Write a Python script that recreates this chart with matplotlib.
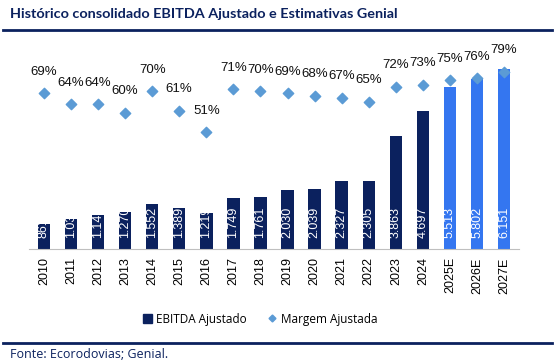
import matplotlib
matplotlib.use("Agg")
import matplotlib.pyplot as plt
from matplotlib.lines import Line2D
from matplotlib.patches import Patch
import numpy as np

years = ["2010", "2011", "2012", "2013", "2014", "2015", "2016", "2017", "2018",
         "2019", "2020", "2021", "2022", "2023", "2024", "2025E", "2026E", "2027E"]
ebitda = [861, 1031, 1145, 1270, 1552, 1389, 1219, 1749, 1761,
          2030, 2039, 2327, 2305, 3863, 4697, 5513, 5802, 6151]
margem = [69, 64, 64, 60, 70, 61, 51, 71, 70, 69, 68, 67, 65, 72, 73, 75, 76, 79]
estimate = [False] * 15 + [True] * 3

navy = "#0B215E"
light = "#3476F0"
diamond = "#5B9BD5"

plt.rcParams['font.family'] = ['Liberation Sans', 'DejaVu Sans']

W, H = 555, 362
fig = plt.figure(figsize=(W / 100, H / 100), dpi=100)

ax_l, ax_r, ax_top, ax_bot = 29, 519, 45, 249
ax = fig.add_axes([ax_l / W, 1 - ax_bot / H, (ax_r - ax_l) / W, (ax_bot - ax_top) / H])
x = np.arange(len(years))
colors = [light if e else navy for e in estimate]
ax.bar(x, ebitda, width=0.46, color=colors, zorder=2)
for xi, v in zip(x, ebitda):
    s = f"{v:,}".replace(",", ".")
    ax.text(xi, 370, s, rotation=90, ha="center", va="bottom", color="white",
            fontsize=9, zorder=3)
ax.set_ylim(0, 6960)
ax.set_xlim(-0.55, len(years) - 0.45)
ax.set_xticks(x)
ax.set_xticklabels(years, rotation=90, fontsize=9)
ax.tick_params(axis="x", length=0, pad=6)
ax.set_yticks([])
for s in ["top", "right", "left"]:
    ax.spines[s].set_visible(False)
ax.spines["bottom"].set_color("#BFBFBF")

ax2 = ax.twinx()
ax2.scatter(x, margem, marker="D", s=28, color=diamond, zorder=4)
for xi, m in zip(x, margem):
    ax2.text(xi, m + 10, f"{m}%", ha="center", va="center", fontsize=9.5, color="#111111")
ax2.set_ylim(-3.4, 91.5)
ax2.set_yticks([])
for s in ["top", "right", "left", "bottom"]:
    ax2.spines[s].set_visible(False)

handles = [Patch(facecolor=navy, edgecolor=navy),
           Line2D([], [], marker="D", linestyle="none", color=diamond, markersize=3.5)]
fig.legend(handles, ["EBITDA Ajustado", "Margem Ajustada"], loc="center",
           bbox_to_anchor=(260 / W, 1 - 319 / H), ncol=2, frameon=False,
           prop={"family": ["Open Sans", "DejaVu Sans"], "size": 8.5},
           handlelength=0.8, handletextpad=0.3, columnspacing=1.8)

fig.text(10 / W, 1 - 14 / H, "Histórico consolidado EBITDA Ajustado e Estimativas Genial",
         fontsize=10.4, fontweight="bold", color=navy, va="center", ha="left",
         family=["Lato", "DejaVu Sans"])
fig.add_artist(Line2D([3 / W, 552 / W], [1 - 30 / H, 1 - 30 / H], color=navy, lw=2))
fig.add_artist(Line2D([3 / W, 552 / W], [1 - 343 / H, 1 - 343 / H], color=navy, lw=2))
fig.text(10 / W, 1 - 354 / H, "Fonte: Ecorodovias; Genial.", fontsize=9, color=navy,
         va="center", ha="left", family=["Open Sans", "DejaVu Sans"])

fig.savefig("out.png", dpi=100)
